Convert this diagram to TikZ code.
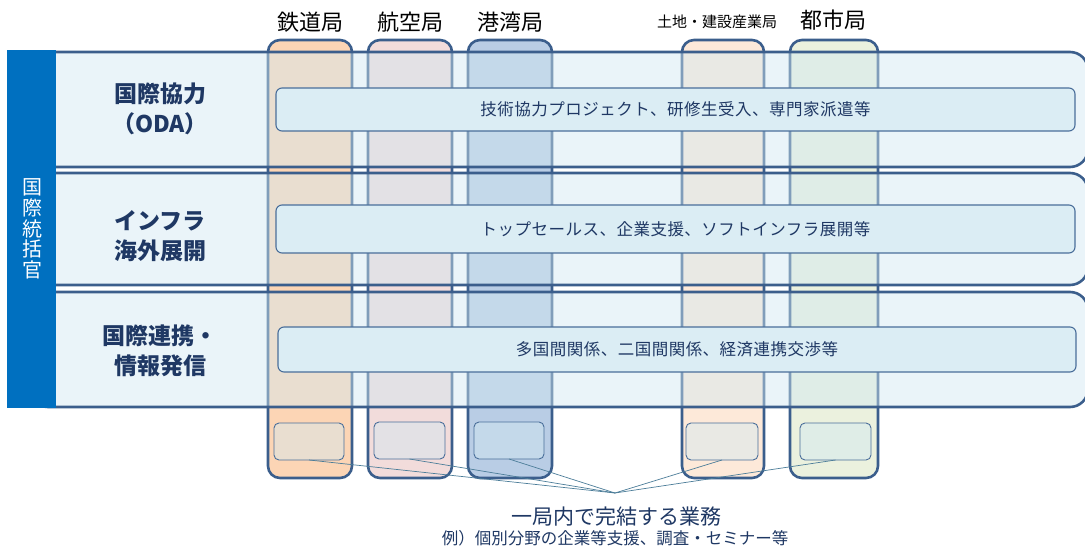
\documentclass[tikz,border=0pt]{standalone}
\usepackage{fontspec}
\setmainfont{Noto Sans CJK JP}
\definecolor{frame}{HTML}{3B5E8C}
\definecolor{navy}{HTML}{1F3864}
\definecolor{barblue}{HTML}{0070C0}
\definecolor{rowfill}{HTML}{D3E9F2}
\definecolor{boxfill}{HTML}{DBEDF4}
\definecolor{boxline}{HTML}{4A6E9A}
\definecolor{linkc}{HTML}{4C7D99}
\definecolor{cA}{HTML}{FCD5B5}
\definecolor{cB}{HTML}{F2DCDB}
\definecolor{cC}{HTML}{B9CDE5}
\definecolor{cD}{HTML}{FDE9D9}
\definecolor{cE}{HTML}{EBF1DE}
\tikzset{
  colbox/.style={draw=frame, line width=2.6pt, rounded corners=12pt, anchor=north west, inner sep=0pt, outer sep=0pt},
  rowbox/.style={draw=frame, line width=2.6pt, rounded corners=18pt, fill=rowfill, fill opacity=0.46, anchor=north west, inner sep=0pt, outer sep=0pt},
  txtbox/.style={draw=boxline, line width=1.1pt, rounded corners=6pt, fill=boxfill, anchor=north west, inner sep=0pt, outer sep=0pt},
  smallbox/.style={draw=boxline, line width=0.9pt, rounded corners=5pt, fill=rowfill, fill opacity=0.46, anchor=north west, inner sep=0pt, outer sep=0pt},
  head/.style={text=black, font=\fontsize{22}{24}\selectfont},
  rowlabel/.style={text=navy, align=center, font=\bfseries\fontsize{23}{29.5}\selectfont},
  boxtext/.style={text=navy, font=\fontsize{16.5}{18}\selectfont\addfontfeature{LetterSpace=3}},
  link/.style={draw=linkc, line width=0.7pt}
}
\begin{document}
\begin{tikzpicture}[x=1pt,y=-1pt]
\useasboundingbox (0,0) rectangle (1085,548);
\fill[white] (0,0) rectangle (1085,548);
\begin{scope}
\clip (0,0) rectangle (1085,548);
% bureau columns
\node[colbox, fill=cA, minimum width=84pt, minimum height=438pt] (c1) at (268,40) {};
\node[colbox, fill=cB, minimum width=84pt, minimum height=438pt] (c2) at (368,40) {};
\node[colbox, fill=cC, minimum width=84pt, minimum height=438pt] (c3) at (468,40) {};
\node[colbox, fill=cD, minimum width=82pt, minimum height=438pt] (c4) at (682,40) {};
\node[colbox, fill=cE, minimum width=88pt, minimum height=438pt] (c5) at (790,40) {};
% rows
\node[rowbox, minimum width=1058pt, minimum height=115pt] (r1) at (30,52) {};
\node[rowbox, minimum width=1058pt, minimum height=112pt] (r2) at (30,173) {};
\node[rowbox, minimum width=1058pt, minimum height=115pt] (r3) at (30,292) {};
% left bar
\node[fill=barblue, anchor=north west, inner sep=0pt, minimum width=49pt, minimum height=358pt] (bar) at (7,50) {};
\node[text=white, align=center, font=\fontsize{20}{20.8}\selectfont] (barlabel) at (33,229) {国\\際\\統\\括\\官};
\end{scope}
% headers
\node[head] (h1) at (310,22) {鉄道局};
\node[head] (h2) at (410,22) {航空局};
\node[head] (h3) at (510,22) {港湾局};
\node[text=black, font=\fontsize{15}{17}\selectfont] (h4) at (717,22) {土地・建設産業局};
\node[head] (h5) at (833,20) {都市局};
% row labels
\node[rowlabel] (l1) at (160,109) {国際協力\\（ODA）};
\node[rowlabel] (l2) at (160,236) {インフラ\\海外展開};
\node[rowlabel] (l3) at (160,351) {国際連携・\\情報発信};
% task boxes
\node[txtbox, minimum width=799pt, minimum height=43pt] (b1) at (276,88) {};
\node[boxtext] at (b1.center) {技術協力プロジェクト、研修生受入、専門家派遣等};
\node[txtbox, minimum width=799pt, minimum height=48pt] (b2) at (276,205) {};
\node[boxtext] at (b2.center) {トップセールス、企業支援、ソフトインフラ展開等};
\node[txtbox, minimum width=798pt, minimum height=45pt] (b3) at (278,327) {};
\node[boxtext] at (b3.center) {多国間関係、二国間関係、経済連携交渉等};
% small boxes
\node[smallbox, minimum width=70pt, minimum height=37pt] (s1) at (274,423) {};
\node[smallbox, minimum width=71pt, minimum height=37pt] (s2) at (374,422) {};
\node[smallbox, minimum width=70pt, minimum height=37pt] (s3) at (474,422) {};
\node[smallbox, minimum width=72pt, minimum height=37pt] (s4) at (686,423) {};
\node[smallbox, minimum width=71pt, minimum height=37pt] (s5) at (800,423) {};
\coordinate (meet) at (615,493);
\foreach \s in {s1,s2,s3,s4,s5} \draw[link] (\s.south) -- (meet);
% bottom text
\node[text=navy, font=\fontsize{21}{23}\selectfont] (t1) at (616,517) {一局内で完結する業務};
\node[text=navy, font=\fontsize{16.5}{18}\selectfont] (t2) at (615,538) {例）個別分野の企業等支援、調査・セミナー等};
\end{tikzpicture}
\end{document}
